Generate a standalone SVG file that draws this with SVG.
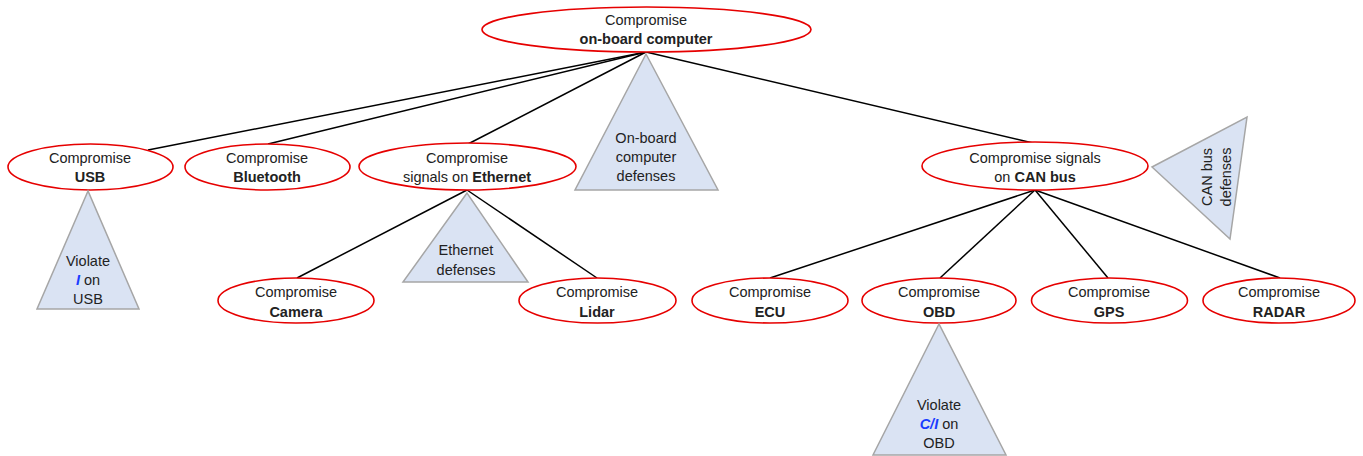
<svg xmlns="http://www.w3.org/2000/svg" width="1363" height="456" viewBox="0 0 1363 456">
<style>
.n{fill:#fff;stroke:#e60000;stroke-width:1.6}
.t{fill:#dae3f3;stroke:#a6a6a6;stroke-width:1.5}
text{font-family:"Liberation Sans",Arial,sans-serif;font-size:14.5px;fill:#222;text-anchor:middle}
.b{font-weight:bold}
.bl{fill:#1a3cff;font-weight:bold;font-style:italic}
.c line{stroke:#000;stroke-width:1.5}
</style>
<rect width="1363" height="456" fill="#fff"/>
<g class="c" id="connectors">
<line x1="646" y1="52" x2="148" y2="150"/>
<line x1="646" y1="52" x2="268" y2="144"/>
<line x1="646" y1="52" x2="468" y2="144"/>
<line x1="646" y1="52" x2="1033" y2="143"/>
<line x1="467" y1="190" x2="297" y2="278"/>
<line x1="467" y1="190" x2="597" y2="278"/>
<line x1="1035" y1="190" x2="770" y2="278"/>
<line x1="1035" y1="190" x2="940" y2="278"/>
<line x1="1035" y1="190" x2="1108" y2="278"/>
<line x1="1035" y1="190" x2="1280" y2="278"/>
</g>
<g id="root">
<ellipse class="n" cx="646.5" cy="29.5" rx="164.5" ry="22.5"/>
<text x="646" y="25">Compromise</text>
<text x="646" y="44" class="b">on-board computer</text>
</g>
<g id="onboard-defenses">
<polygon class="t" points="646,54 575,190 718,190"/>
<text x="646" y="143">On-board</text>
<text x="646" y="162">computer</text>
<text x="646" y="181">defenses</text>
</g>
<g id="usb">
<ellipse class="n" cx="90.5" cy="167" rx="82.5" ry="23"/>
<text x="90" y="163">Compromise</text>
<text x="90" y="182" class="b">USB</text>
</g>
<g id="usb-violate">
<polygon class="t" points="88,191 37,309 139,309"/>
<text x="88" y="266">Violate</text>
<text x="88" y="285"><tspan class="bl">I</tspan> on</text>
<text x="88" y="304">USB</text>
</g>
<g id="bluetooth">
<ellipse class="n" cx="267.5" cy="167" rx="82.5" ry="23"/>
<text x="267" y="163">Compromise</text>
<text x="267" y="182" class="b">Bluetooth</text>
</g>
<g id="ethernet">
<ellipse class="n" cx="467.5" cy="166.5" rx="108.5" ry="23.5"/>
<text x="467" y="163">Compromise</text>
<text x="467" y="182">signals on <tspan class="b">Ethernet</tspan></text>
</g>
<g id="ethernet-defenses">
<polygon class="t" points="467,193 403,282 528,282"/>
<text x="466" y="255">Ethernet</text>
<text x="466" y="275">defenses</text>
</g>
<g id="camera">
<ellipse class="n" cx="296" cy="300.5" rx="78" ry="22.5"/>
<text x="296" y="297">Compromise</text>
<text x="296" y="317" class="b">Camera</text>
</g>
<g id="lidar">
<ellipse class="n" cx="597.5" cy="300.5" rx="78.5" ry="22.5"/>
<text x="597" y="297">Compromise</text>
<text x="597" y="317" class="b">Lidar</text>
</g>
<g id="canbus">
<ellipse class="n" cx="1035" cy="166" rx="113" ry="24"/>
<text x="1035" y="163">Compromise signals</text>
<text x="1035" y="182">on <tspan class="b">CAN bus</tspan></text>
</g>
<g id="canbus-defenses">
<polygon class="t" points="1152,167 1247,117 1230,239"/>
<text transform="translate(1207,177) rotate(-90)" y="5">CAN bus</text>
<text transform="translate(1226,177) rotate(-90)" y="5">defenses</text>
</g>
<g id="ecu">
<ellipse class="n" cx="770" cy="300.5" rx="78" ry="22.5"/>
<text x="770" y="297">Compromise</text>
<text x="770" y="317" class="b">ECU</text>
</g>
<g id="obd">
<ellipse class="n" cx="939" cy="300.5" rx="77" ry="22.5"/>
<text x="939" y="297">Compromise</text>
<text x="939" y="317" class="b">OBD</text>
</g>
<g id="obd-violate">
<polygon class="t" points="939,324 873,455 1006,455"/>
<text x="939" y="410">Violate</text>
<text x="939" y="429"><tspan class="bl">C/I</tspan> on</text>
<text x="939" y="448">OBD</text>
</g>
<g id="gps">
<ellipse class="n" cx="1109.5" cy="300.5" rx="78" ry="22.5"/>
<text x="1109" y="297">Compromise</text>
<text x="1109" y="317" class="b">GPS</text>
</g>
<g id="radar">
<ellipse class="n" cx="1279" cy="300.5" rx="76" ry="22.5"/>
<text x="1279" y="297">Compromise</text>
<text x="1279" y="317" class="b">RADAR</text>
</g>
</svg>
